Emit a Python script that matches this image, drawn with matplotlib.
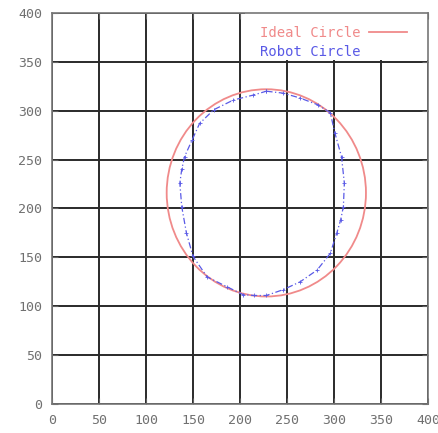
import matplotlib
matplotlib.use("Agg")
from matplotlib import pyplot as plt
from matplotlib.patches import Circle, Rectangle
from matplotlib.lines import Line2D

# ideal circle (centre, radius)
ideal_center = (228, 216)
ideal_radius = 106

robot_x = [228, 246, 264, 283, 296, 301, 308, 311, 310, 307, 303, 296, 282, 264,
           246, 228, 215, 203, 186, 165, 150, 143, 138, 136, 138, 141, 149, 157,
           172, 193, 214, 228]
robot_y = [320, 318, 313, 306, 298, 277, 253, 226, 202, 188, 175, 154, 137, 125,
           117, 111, 111, 112, 120, 130, 151, 175, 202, 226, 240, 253, 270, 287,
           301, 311, 316, 320]

ticks = [0, 50, 100, 150, 200, 250, 300, 350, 400]

W, H = 438, 433
fig = plt.figure(figsize=(W / 100, H / 100), dpi=100)
ax = fig.add_axes([52 / W, (H - 404) / H, (428 - 52) / W, (404 - 13) / H])

ax.set_xlim(0, 400)
ax.set_ylim(0, 400)
ax.set_xticks(ticks)
ax.set_yticks(ticks)
ax.grid(True, color="#2a2a2a", linewidth=1.4)
ax.set_axisbelow(True)
ax.tick_params(direction="in", length=4, color="#606060", labelcolor="#707070",
               labelsize=9.5, top=True, right=True, pad=7)
for lab in ax.get_xticklabels() + ax.get_yticklabels():
    lab.set_family("DejaVu Sans Mono")
for sp in ax.spines.values():
    sp.set_color("#777777")
    sp.set_linewidth(1.2)

# legend area: white box hiding the grid at the top right
ax.add_patch(Rectangle((205, 352), 195, 48, facecolor="white", edgecolor="none",
                       zorder=2))

ax.add_patch(Circle(ideal_center, ideal_radius, fill=False, edgecolor="#f08a8a",
                    linewidth=1.3, zorder=3))
ax.plot(robot_x, robot_y, color="#5a5ae6", linewidth=0.9, linestyle=(0, (5, 2, 1, 2)),
        marker="+", markersize=2.5, markeredgewidth=0.6, zorder=4)

ax.text(328, 380, "Ideal Circle", color="#f08a8a", ha="right", va="center",
        family="DejaVu Sans Mono", fontsize=10, zorder=5)
ax.add_line(Line2D([337, 378], [381, 381], color="#f08a8a", linewidth=1.3, zorder=5))
ax.text(328, 360.5, "Robot Circle", color="#5a5ae6", ha="right", va="center",
        family="DejaVu Sans Mono", fontsize=10, zorder=5)

fig.savefig("out.png", dpi=100)
